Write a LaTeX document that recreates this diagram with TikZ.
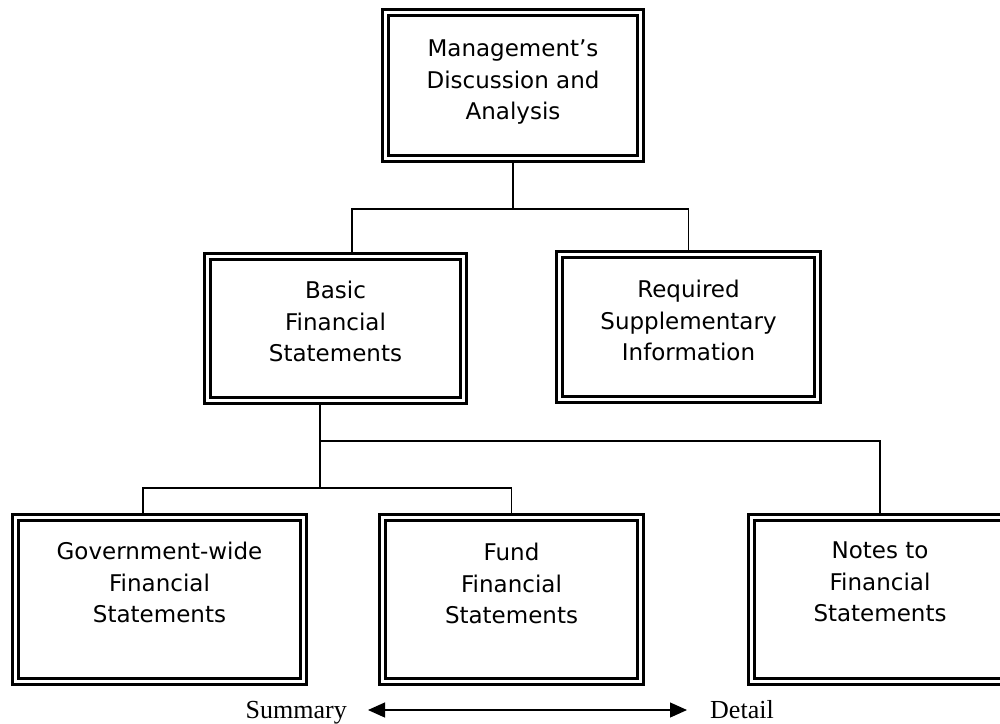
\documentclass[tikz,border=0pt]{standalone}
\usepackage{fontspec}
\setmainfont{DejaVu Sans}
\newfontfamily\serifface{Liberation Serif}
\usetikzlibrary{arrows.meta,positioning}

\begin{document}
\begin{tikzpicture}[x=1pt,y=-1pt,
  panel/.style={rectangle, draw, line width=3pt, double=white, double distance=3pt,
                outer sep=4.5pt, inner sep=0pt},
  caption/.style={inner sep=0pt, align=center, font=\fontsize{23}{31.5}\selectfont},
  link/.style={line width=1.2pt},
  axis label/.style={inner sep=0pt, font=\serifface\fontsize{26}{30}\selectfont},
  span/.style={line width=1.2pt,
               {Triangle[length=17pt,width=15pt]}-{Triangle[length=17pt,width=15pt]}}]
\useasboundingbox (0,0) rectangle (1000,723);
\clip (0,0) rectangle (1000,723);

% report components (centre lines of the double frames)
\node[panel, minimum width=255pt, minimum height=146pt] (mda)   at (513,85.5)   {};
\node[panel, minimum width=256pt, minimum height=144pt] (bfs)   at (335.5,328.5) {};
\node[panel, minimum width=258pt, minimum height=145pt] (rsi)   at (688.5,327)  {};
\node[panel, minimum width=288pt, minimum height=164pt] (gov)   at (159.5,599.5) {};
\node[panel, minimum width=258pt, minimum height=164pt] (fund)  at (511.5,599.5) {};
\node[panel, minimum width=257pt, minimum height=164pt] (notes) at (880,599.5)  {};

% captions, set near the top of each frame
\node[caption, below=32pt of mda.north]   (mdaText)   {Management’s\\Discussion and\\Analysis};
\node[caption, below=29pt of bfs.north]   (bfsText)   {Basic\\Financial\\Statements};
\node[caption, below=30pt of rsi.north]   (rsiText)   {Required\\Supplementary\\Information};
\node[caption, below=29pt of gov.north]   (govText)   {Government-wide\\Financial\\Statements};
\node[caption, below=30pt of fund.north]  (fundText)  {Fund\\Financial\\Statements};
\node[caption, below=29pt of notes.north] (notesText) {Notes to\\Financial\\Statements};

% tree connectors
\coordinate (top split)    at (513,209);
\coordinate (fork)         at (320,488);
\coordinate (notes branch) at (320,441);

\draw[link] (mda.south) -- (top split);
\draw[link] ([xshift=16.5pt]bfs.north) |- (rsi.north |- top split) -- (rsi.north);

\draw[link] ([xshift=-15.5pt]bfs.south) -- (fork);
\draw[link] (notes branch) -| (notes.north);
\draw[link] ([xshift=-16.5pt]gov.north) |- (fund.north |- fork) -- (fund.north);

% summary to detail scale
\node[axis label, anchor=base east] (summary) at (347,718) {Summary};
\node[axis label, anchor=base west] (detail)  at (710,718) {Detail};
\draw[span] ([xshift=21pt,yshift=8pt]summary.base east) -- ([xshift=-23pt,yshift=8pt]detail.base west);
\end{tikzpicture}
\end{document}
